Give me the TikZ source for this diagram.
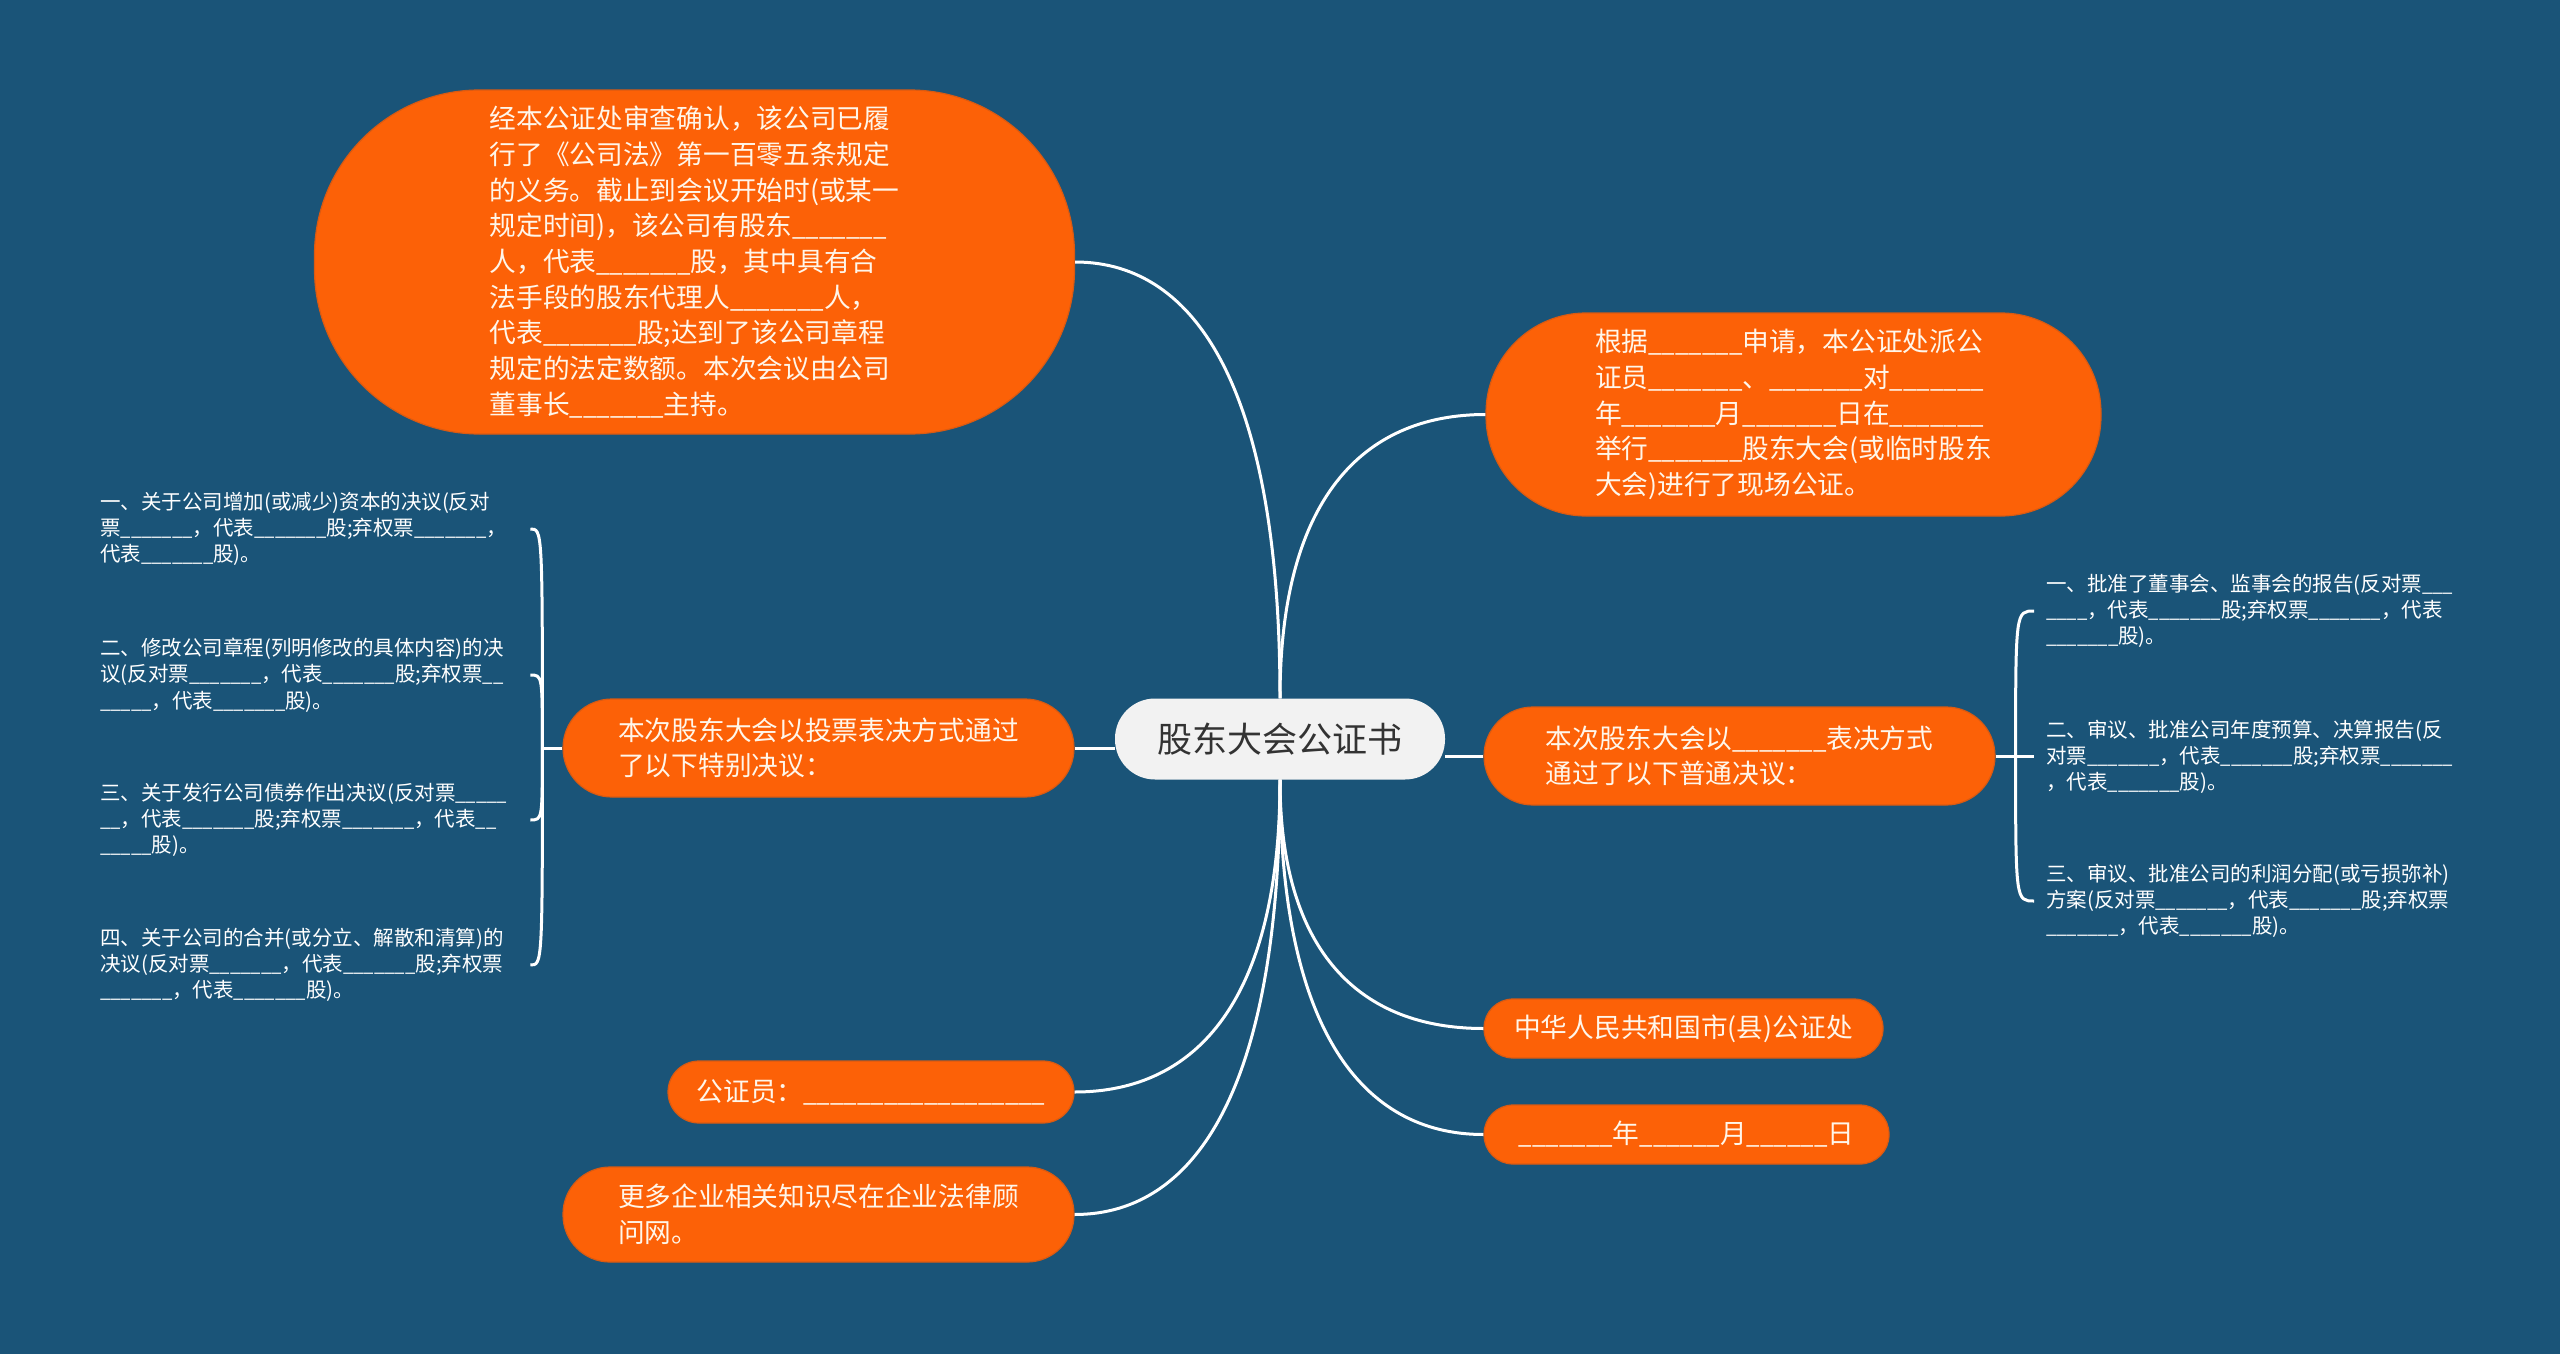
\documentclass[tikz,border=0pt]{standalone}
\usepackage{fontspec}
\setmainfont{Noto Sans CJK SC}
\usetikzlibrary{calc}
\definecolor{bg}{HTML}{1A5478}
\definecolor{org}{HTML}{FC6107}
\definecolor{orgline}{HTML}{D95A12}
\definecolor{ctr}{HTML}{F2F2F2}
\definecolor{ink}{HTML}{333333}
\definecolor{cream}{HTML}{FFF6EA}
\newcommand{\us}[1]{{\addfontfeatures{FakeStretch=0.9}#1}}
\newcommand{\blk}{\us{\_\_\_\_\_\_\_}}
\begin{document}
\begin{tikzpicture}[x=1pt,y=-1pt,
  onode/.style={fill=org, draw=orgline, line width=1.2pt, inner sep=0pt, text=cream, align=left, font=\fontsize{26.7pt}{35.7pt}\selectfont},
  leaf/.style={inner sep=0pt, text=white, align=left, text width=430pt, font=\fontsize{20.5pt}{26.3pt}\selectfont, anchor=west},
  link/.style={draw=white, line width=3pt},
]
\fill[bg] (0,0) rectangle (2560,1354);
\useasboundingbox (0,0) rectangle (2560,1354);

\node[fill=ctr, text=ink, rounded corners=40pt, minimum width=330pt, minimum height=81pt, inner sep=0pt, font=\fontsize{35pt}{40pt}\selectfont] (C) at (1280,739) {股东大会公证书};

\node[onode, rounded corners=165pt, minimum width=760pt, minimum height=344pt] (TL) at (694.5,262) {经本公证处审查确认，该公司已履\\
行了《公司法》第一百零五条规定\\
的义务。截止到会议开始时(或某一\\
规定时间)，该公司有股东\blk\\
人，代表\blk 股，其中具有合\\
法手段的股东代理人\blk 人，\\
代表\blk 股;达到了该公司章程\\
规定的法定数额。本次会议由公司\\
董事长\blk 主持。};

\node[onode, rounded corners=100pt, minimum width=615pt, minimum height=203pt] (TR) at (1793.5,414.5) {根据\blk 申请，本公证处派公\\
证员\blk 、\blk 对\blk\\
年\blk 月\blk 日在\blk\\
举行\blk 股东大会(或临时股东\\
大会)进行了现场公证。};

\node[onode, rounded corners=49pt, minimum width=511pt, minimum height=98pt] (SP) at (818.5,748) {本次股东大会以投票表决方式通过\\了以下特别决议：};
\node[onode, rounded corners=49pt, minimum width=511pt, minimum height=98pt] (PT) at (1739.5,756) {本次股东大会以\blk 表决方式\\通过了以下普通决议：};
\node[onode, rounded corners=29pt, minimum width=399pt, minimum height=59pt] (ZH) at (1683.5,1028.5) {中华人民共和国市(县)公证处};
\node[onode, rounded corners=29pt, minimum width=405pt, minimum height=59pt] (DT) at (1686.5,1134.5) {\blk 年\us{\_\_\_\_\_\_}月\us{\_\_\_\_\_\_}日};
\node[onode, rounded corners=31pt, minimum width=406pt, minimum height=62pt] (GZ) at (871,1092) {公证员：\us{\_\_\_\_\_\_\_\_\_\_\_\_\_\_\_\_\_\_}};
\node[onode, rounded corners=47pt, minimum width=511pt, minimum height=95pt] (MORE) at (818.5,1214.5) {更多企业相关知识尽在企业法律顾\\问网。};

\node[leaf] (L1) at (100,529) {一、关于公司增加(或减少)资本的决议(反对\\票\blk ，代表\blk 股;弃权票\blk ，\\代表\blk 股)。};
\node[leaf] (L2) at (100,675) {二、修改公司章程(列明修改的具体内容)的决\\议(反对票\blk ，代表\blk 股;弃权票\us{\_\_} \\ \us{\_\_\_\_\_}，代表\blk 股)。};
\node[leaf] (L3) at (100,820) {三、关于发行公司债券作出决议(反对票\us{\_\_\_\_\_} \\ \us{\_\_}，代表\blk 股;弃权票\blk ，代表\us{\_\_} \\ \us{\_\_\_\_\_}股)。};
\node[leaf] (L4) at (100,965) {四、关于公司的合并(或分立、解散和清算)的\\决议(反对票\blk ，代表\blk 股;弃权票\\\blk ，代表\blk 股)。};

\node[leaf] (R1) at (2046,611) {一、批准了董事会、监事会的报告(反对票\us{\_\_\_} \\ \us{\_\_\_\_}，代表\blk 股;弃权票\blk ，代表\\\blk 股)。};
\node[leaf] (R2) at (2046,757) {二、审议、批准公司年度预算、决算报告(反\\对票\blk ，代表\blk 股;弃权票\blk \\，代表\blk 股)。};
\node[leaf] (R3) at (2046,901) {三、审议、批准公司的利润分配(或亏损弥补)\\方案(反对票\blk ，代表\blk 股;弃权票\\\blk ，代表\blk 股)。};

% left bracket
\coordinate (HL) at ($(SP.west)+(-20,0)$);
\draw[link] (SP.west) -- (HL);
\foreach \n in {L1,L2,L3,L4}
  \draw[link] (HL) .. controls (HL |- \n.east) and (HL |- \n.east) .. (\n.east);

% right bracket
\coordinate (HR) at ($(PT.east)+(20,0)$);
\coordinate (R1e) at ($(R1.west)+(-12,0)$);
\coordinate (R2e) at ($(R2.west)+(-12,0)$);
\coordinate (R3e) at ($(R3.west)+(-12,0)$);
\draw[link] (PT.east) -- (PT.east -| R2e);
\foreach \n in {R1e,R3e}
  \draw[link] (HR) .. controls (HR |- \n) and (HR |- \n) .. (\n);

% main links
\draw[link] (C.west |- SP.east) -- (SP.east);
\draw[link] (PT.west) -- (PT.west -| C.east);
\draw[link] (C.north) .. controls ($(C.north)!0.7!(C.north |- TL.east)$) and ($(TL.east)!0.6!(TL.east -| C.north)$) .. (TL.east);
\draw[link] (C.north) .. controls ($(C.north)!0.7!(C.north |- TR.west)$) and ($(TR.west)!0.6!(TR.west -| C.north)$) .. (TR.west);
\draw[link] (C.south) .. controls ($(C.south)!0.7!(C.south |- ZH.west)$) and ($(ZH.west)!0.6!(ZH.west -| C.south)$) .. (ZH.west);
\draw[link] (C.south) .. controls ($(C.south)!0.7!(C.south |- DT.west)$) and ($(DT.west)!0.6!(DT.west -| C.south)$) .. (DT.west);
\draw[link] (C.south) .. controls ($(C.south)!0.7!(C.south |- GZ.east)$) and ($(GZ.east)!0.6!(GZ.east -| C.south)$) .. (GZ.east);
\draw[link] (C.south) .. controls ($(C.south)!0.7!(C.south |- MORE.east)$) and ($(MORE.east)!0.6!(MORE.east -| C.south)$) .. (MORE.east);
\end{tikzpicture}
\end{document}
